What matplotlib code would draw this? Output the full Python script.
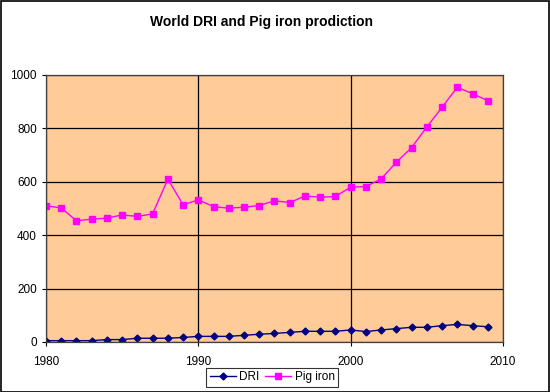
import numpy as np
import matplotlib.pyplot as plt

TITLE = "World DRI and Pig iron prodiction"

years = list(range(1980, 2010))
dri = [5, 5, 5, 5, 9, 9, 14, 14, 14, 17,
       21, 21, 21, 25, 29, 32, 36, 40, 40, 40,
       45, 39, 45, 50, 55, 55, 61, 66, 61, 57]
pig_iron = [510, 502, 454, 460, 464, 476, 470, 480, 610, 514,
            532, 507, 501, 505, 511, 529, 522, 547, 542, 545,
            580, 582, 611, 673, 728, 805, 879, 954, 930, 904]
x_ticks = [1980, 1990, 2000, 2010]
y_ticks = [0, 200, 400, 600, 800, 1000]


def plotter():
    plt.rcParams['font.family'] = ['Liberation Sans', 'DejaVu Sans']
    fig = plt.figure(figsize=(5.5, 3.92), dpi=100)
    ax = fig.add_axes([0.0836, 0.1276, 0.8309, 0.6811])
    ax.set_facecolor('#FFCC99')

    ax.plot(years, dri, color='#000080', marker='D', markersize=3.5,
            linewidth=1, label='DRI')
    ax.plot(years, pig_iron, color='#FF00FF', marker='s', markersize=4.5,
            linewidth=1, label='Pig iron')

    ax.set_xlim(1980, 2010)
    ax.set_ylim(0, 1000)
    ax.set_xticks(x_ticks)
    ax.set_yticks(y_ticks)
    ax.tick_params(labelsize=8.5, length=3, width=0.8, color='black')
    ax.tick_params(axis='x', pad=7)
    ax.grid(True, color='black', linewidth=0.9)
    ax.set_axisbelow(True)
    for s in ax.spines.values():
        s.set_color('#404040')
        s.set_linewidth(0.9)

    fig.text(0.475, 0.945, TITLE, ha='center', va='center',
             fontsize=10, fontweight='bold')

    leg = fig.legend(loc='center', bbox_to_anchor=(0.495, 0.038), ncol=2,
                     fontsize=8.5, frameon=True, fancybox=False,
                     borderpad=0.3, handlelength=2.2, columnspacing=0.5,
                     handletextpad=0.3)
    leg.get_frame().set_edgecolor('black')
    leg.get_frame().set_linewidth(0.8)

    # outer border of the chart
    fig.patches.append(plt.Rectangle((0.001, 0.001), 0.997, 0.997,
                                     transform=fig.transFigure, fill=False,
                                     edgecolor='black', linewidth=1.2))


if __name__ == "__main__":
    plotter()
    plt.savefig("out.png", dpi=100)
